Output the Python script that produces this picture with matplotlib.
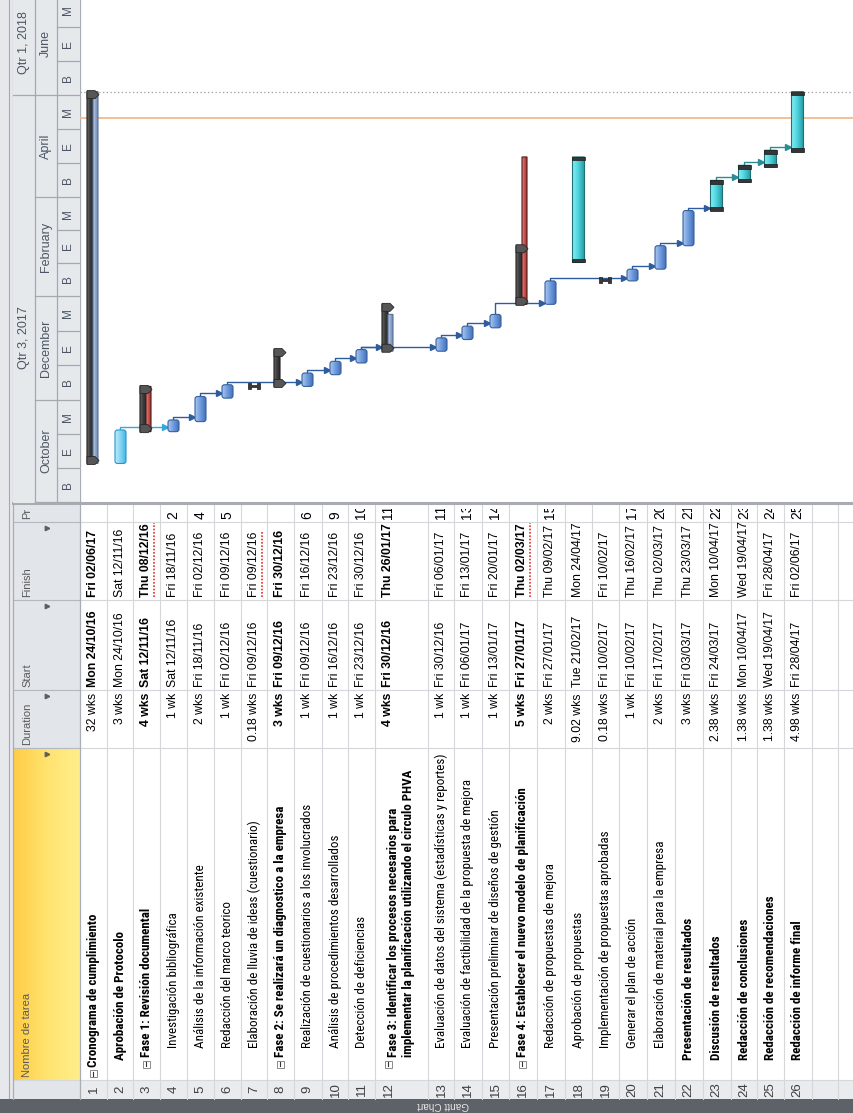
"""Rotated MS Project style Gantt chart for the improvement-plan schedule."""

from datetime import datetime

import matplotlib.dates as mdates
import numpy as np
from matplotlib import font_manager
from matplotlib import pyplot as plt
from matplotlib.colors import LinearSegmentedColormap
from matplotlib.patches import FancyBboxPatch, Polygon, Rectangle
from matplotlib.path import Path

plt.rcParams["font.family"] = ["Liberation Sans", "DejaVu Sans"]

# ---------------------------------------------------------------- data
task_names = [
    "Cronograma de cumplimiento",
    "Aprobación de Protocolo",
    "Fase 1: Revisión documental",
    "Investigación bibliográfica",
    "Análisis de la información existente",
    "Redacción del marco teorico",
    "Elaboración de lluvia de ideas (cuestionario)",
    "Fase 2: Se realizará un diagnostico a la empresa",
    "Realización de cuestionarios a los involucrados",
    "Análisis de procedimientos desarrollados",
    "Detección de deficiencias",
    "Fase 3: Identificar los procesos necesarios para\n"
    "implementar la planificación utilizando el circulo PHVA",
    "Evaluación de datos del sistema (estadísticas y reportes)",
    "Evaluación de factibilidad de la propuesta de mejora",
    "Presentación preliminar de diseños de gestión",
    "Fase 4: Establecer el nuevo modelo de planificación",
    "Redacción de propuestas de mejora",
    "Aprobación de propuestas",
    "Implementación de propuestas aprobadas",
    "Generar el plan de acción",
    "Elaboración de material para la empresa",
    "Presentación de resultados",
    "Discusión de resultados",
    "Redacción de conclusiones",
    "Redacción de recomendaciones",
    "Redacción de informe final",
]
durations = [
    "32 wks", "3 wks", "4 wks", "1 wk", "2 wks", "1 wk", "0.18 wks", "3 wks",
    "1 wk", "1 wk", "1 wk", "4 wks", "1 wk", "1 wk", "1 wk", "5 wks", "2 wks",
    "9.02 wks", "0.18 wks", "1 wk", "2 wks", "3 wks", "2.38 wks", "1.38 wks",
    "1.38 wks", "4.98 wks",
]
starts = [
    "Mon 24/10/16", "Mon 24/10/16", "Sat 12/11/16", "Sat 12/11/16",
    "Fri 18/11/16", "Fri 02/12/16", "Fri 09/12/16", "Fri 09/12/16",
    "Fri 09/12/16", "Fri 16/12/16", "Fri 23/12/16", "Fri 30/12/16",
    "Fri 30/12/16", "Fri 06/01/17", "Fri 13/01/17", "Fri 27/01/17",
    "Fri 27/01/17", "Tue 21/02/17", "Fri 10/02/17", "Fri 10/02/17",
    "Fri 17/02/17", "Fri 03/03/17", "Fri 24/03/17", "Mon 10/04/17",
    "Wed 19/04/17", "Fri 28/04/17",
]
finishes = [
    "Fri 02/06/17", "Sat 12/11/16", "Thu 08/12/16", "Fri 18/11/16",
    "Fri 02/12/16", "Fri 09/12/16", "Fri 09/12/16", "Fri 30/12/16",
    "Fri 16/12/16", "Fri 23/12/16", "Fri 30/12/16", "Thu 26/01/17",
    "Fri 06/01/17", "Fri 13/01/17", "Fri 20/01/17", "Thu 02/03/17",
    "Thu 09/02/17", "Mon 24/04/17", "Fri 10/02/17", "Thu 16/02/17",
    "Thu 02/03/17", "Thu 23/03/17", "Mon 10/04/17", "Wed 19/04/17",
    "Fri 28/04/17", "Fri 02/06/17",
]
predecessors = [
    "", "", "", "2", "4", "5", "", "", "6", "9", "10", "11", "11", "13", "14",
    "", "15", "", "", "17", "20", "21", "22", "23", "24", "25",
]
outline_levels = [0, 1, 1, 2, 2, 2, 2, 1, 2, 2, 2, 1, 2, 2, 2, 1, 2, 2, 2, 2, 2,
                  1, 1, 1, 1, 1]
bar_types = [
    "summary", "light", "summary", "auto", "auto", "auto", "short", "summary",
    "auto", "auto", "auto", "summary", "auto", "auto", "auto", "summary",
    "auto", "manual", "short", "auto", "auto", "auto", "manual", "manual",
    "manual", "manual",
]
bold_name_rows = [1, 2, 3, 8, 12, 16, 22, 23, 24, 25, 26]
bold_date_rows = [1, 3, 8, 12, 16]
bold_duration_rows = [3, 8, 12, 16]
warning_rows = [3, 7, 16]

# roll-up bars drawn beside the summary bars
rollup_rows = [1, 3, 12, 16]
rollup_starts = ["24/10/16", "12/11/16", "30/12/16", "27/01/17"]
rollup_finishes = ["02/06/17", "08/12/16", "20/01/17", "24/04/17"]
rollup_styles = ["steel", "red", "steel", "red"]

# timescale
period_starts = ["01/10/16", "01/12/16", "01/02/17", "01/04/17", "01/06/17",
                 "01/08/17"]
period_labels = ["October", "December", "February", "April", "June"]
third_labels = ["B", "E", "M"]
quarter_labels = ["Qtr 3, 2017", "Qtr 1, 2018"]
quarter_label_dates = ["07/01/17", "02/07/17"]
quarter_breaks = ["01/06/17"]
status_date = "18/05/17"
project_end_line = "03/06/17"

# ---------------------------------------------------------------- layout
W, H = 854, 1113
PX_PER_DAY = 1.675
HDR_L, HDR_R = 13, 80
GANTT_B = 503
row_edges = [80, 107, 133, 160, 187, 214, 241, 267, 294, 322, 348, 375, 428,
             454, 482, 509, 537, 565, 592, 619, 647, 675, 703, 731, 757, 784,
             812, 838, 865]
# table columns (y ranges in pixels): pred, finish, start, duration, name
COL_PR = (505, 522)
COL_FIN = (522, 600)
COL_START = (600, 690)
COL_DUR = (690, 748)
COL_NAME = (748, 1080)
COL_NUM = (1080, 1099)
CELL_SIZE = 8.8

installed = {f.name for f in font_manager.fontManager.ttflist}
narrow = next((f for f in ("Liberation Sans Narrow", "Roboto Condensed")
               if f in installed), None)
if narrow:
    NAME_FONT = {"family": [narrow, "DejaVu Sans"], "size": 9.4}
else:
    NAME_FONT = {"family": ["Liberation Sans", "DejaVu Sans"], "size": 7.8}


def parse(label):
    return mdates.date2num(datetime.strptime(label.split()[-1], "%d/%m/%y"))


def dpx(p):
    """Pixels along the time axis expressed in days."""
    return p / PX_PER_DAY


n_tasks = len(task_names)
row_lo = np.array(row_edges[:n_tasks], dtype=float)
row_x = row_lo + 13.5  # first text line / bar position of each row
start_t = np.array([parse(s) for s in starts])
finish_t = np.array([parse(f) for f in finishes]) + 1.0

fig = plt.figure(figsize=(W / 100, H / 100), dpi=100)
ax = fig.add_axes([0, 0, 1, 1])
ax.set_xlim(0, W)
ax.set_ylim(H, 0)
ax.axis("off")

# ---------------------------------------------------------------- frame
ax.add_patch(Rectangle((0, 0), HDR_L, H, fc="#E6E8EC", ec="none"))
ax.plot([9, 9], [0, H], color="#A3A9B1", lw=0.8)
ax.add_patch(Rectangle((HDR_L, GANTT_B), HDR_R - HDR_L, COL_NAME[0] - GANTT_B,
                       fc="#E2E5E9", ec="none"))
yellow = LinearSegmentedColormap.from_list("hdr", ["#FFCC45", "#FFE36F", "#FFEE8C"])
ax.imshow(np.linspace(0, 1, 64)[None, :], cmap=yellow, aspect="auto",
          extent=(HDR_L, HDR_R, COL_NAME[1], COL_NAME[0]), zorder=1)
ax.add_patch(Rectangle((HDR_L, COL_NUM[0]), W - HDR_L, COL_NUM[1] - COL_NUM[0],
                       fc="#E9EBEE", ec="none"))
ax.add_patch(Rectangle((HDR_L, COL_NUM[0]), HDR_R - HDR_L, COL_NUM[1] - COL_NUM[0],
                       fc="#E2E5E9", ec="none", zorder=1))
ax.add_patch(Rectangle((0, COL_NUM[1]), W, H - COL_NUM[1], fc="#5D6168",
                       ec="none", zorder=2))
ax.text(443, 1105.5, "Gantt Chart", rotation=180, ha="center", va="center",
        fontsize=7.2, color="#E6E6E6", zorder=3)

# table grid
for x in row_edges[1:]:
    ax.plot([x, x], [GANTT_B + 2, COL_NUM[1]], color="#D5D7DA", lw=0.8)
for y in (COL_FIN[0], COL_START[0], COL_DUR[0], COL_NAME[0], COL_NUM[0]):
    ax.plot([HDR_L, W], [y, y], color="#D5D7DA", lw=0.8)
for y in (COL_FIN[0], COL_START[0], COL_DUR[0], COL_NAME[0]):
    ax.plot([HDR_L, HDR_R], [y, y], color="#B4B9C0", lw=0.8, zorder=2)
ax.plot([HDR_R, HDR_R], [0, COL_NUM[1]], color="#A9AEB5", lw=0.9, zorder=2)
ax.plot([HDR_L, HDR_L], [0, COL_NUM[1]], color="#A9AEB5", lw=0.9, zorder=2)
ax.plot([HDR_L, W], [GANTT_B, GANTT_B], color="#A8ACB2", lw=2.2, zorder=2)

# column headers
header_texts = [("Pr", COL_PR), ("Finish", COL_FIN), ("Start", COL_START),
                ("Duration", COL_DUR), ("Nombre de tarea", COL_NAME)]
for label, (lo, hi) in header_texts:
    t = ax.text(27, hi - 3, label, rotation=90, ha="center", va="bottom",
                fontsize=8, color="#595959", zorder=3, clip_on=True)
    t.set_clip_path(Rectangle((HDR_L, lo + (13 if label == "Duration" else 0)),
                              HDR_R - HDR_L, hi - lo, transform=ax.transData))
    if label != "Pr":
        ax.plot(47, lo + 6, marker=">", ms=3.2, color="#5F5F5F", zorder=3)

# table body
for i in range(n_tasks):
    x = row_x[i]
    num = i + 1
    ax.text(x, (COL_NUM[0] + COL_NUM[1]) / 2, str(num), rotation=90, ha="center",
            va="center", fontsize=9.5, color="#3F3F3F", zorder=3)
    lvl = outline_levels[i]
    summary = bar_types[i] == "summary"
    if lvl == 0:
        y_text, y_box = 1067, 1073.5
    elif summary:
        y_text, y_box = 1057, 1064
    elif lvl == 1:
        y_text, y_box = 1060, None
    else:
        y_text, y_box = 1048, None
    if summary:
        ax.add_patch(Rectangle((x - 3.5, y_box - 3.5), 7, 7, fc="white",
                               ec="#8A8A8A", lw=0.7, zorder=3))
        ax.plot([x, x], [y_box - 2, y_box + 2], color="#333333", lw=0.8, zorder=4)
    name_x = (row_lo[i] + row_edges[i + 1]) / 2 if "\n" in task_names[i] else x
    ax.text(name_x, y_text, task_names[i], rotation=90, ha="center", va="bottom",
            multialignment="left", linespacing=1.2, zorder=3,
            fontweight="bold" if num in bold_name_rows else "normal",
            **NAME_FONT)
    ax.text(x, COL_DUR[0] + 3, durations[i], rotation=90, ha="center", va="top",
            fontsize=CELL_SIZE,
            fontweight="bold" if num in bold_duration_rows else "normal")
    ax.text(x, COL_START[1] - 3, starts[i], rotation=90, ha="center",
            va="bottom", fontsize=CELL_SIZE,
            fontweight="bold" if num in bold_date_rows else "normal")
    fin = ax.text(x, COL_FIN[1] - 3, finishes[i], rotation=90, ha="center",
                  va="bottom", fontsize=CELL_SIZE,
                  fontweight="bold" if num in bold_date_rows else "normal")
    if num in warning_rows:
        fig.canvas.draw()
        bb = fin.get_window_extent(fig.canvas.get_renderer())
        (bx0, by0), (bx1, by1) = ax.transData.inverted().transform(
            [[bb.x0, bb.y0], [bb.x1, bb.y1]])
        ax.plot([bx1 + 1.5, bx1 + 1.5], [by0, by1], color="#E0302A", lw=1.2,
                ls=(0, (1, 1)), zorder=3)
    if predecessors[i]:
        t = ax.text(x, COL_PR[1] - 3, predecessors[i], rotation=90, ha="center",
                    va="bottom", fontsize=10, clip_on=True)
        t.set_clip_path(Rectangle((HDR_R, COL_PR[0] + 4), W, COL_PR[1] - COL_PR[0],
                                  transform=ax.transData))

# ---------------------------------------------------------------- timescale
t_origin = parse("01/10/16")
y_lim = (t_origin - dpx(GANTT_B - 502), t_origin + dpx(502))

hax = fig.add_axes([HDR_L / W, 1 - GANTT_B / H, (HDR_R - HDR_L) / W, GANTT_B / H])
hax.set_xlim(HDR_L, HDR_R)
hax.set_ylim(*y_lim)
hax.axis("off")
hax.add_patch(Rectangle((HDR_L, y_lim[0]), HDR_R - HDR_L, y_lim[1] - y_lim[0],
                        fc="#E6E9EC", ec="none"))
tier_col = "#A4A9B0"
scale_col = "#4B5563"
for xb in (35, 57):
    hax.plot([xb, xb], y_lim, color=tier_col, lw=0.9)
p_t = [parse(p) for p in period_starts]
for k, label in enumerate(period_labels):
    t0, t1 = p_t[k], p_t[k + 1]
    hax.plot([35, HDR_R], [t0, t0], color=tier_col, lw=0.9)
    hax.text(46, (t0 + t1) / 2, label, rotation=90, ha="center", va="center",
             fontsize=9, color=scale_col, clip_on=True)
    edges = np.linspace(t0, t1, 4)
    for j, letter in enumerate(third_labels):
        if j:
            hax.plot([57, HDR_R], [edges[j], edges[j]], color=tier_col, lw=0.9)
        hax.text(68.5, (edges[j] + edges[j + 1]) / 2, letter, rotation=90,
                 ha="center", va="center", fontsize=8.5, color=scale_col,
                 clip_on=True)
for qb in quarter_breaks:
    hax.plot([HDR_L, 35], [parse(qb)] * 2, color=tier_col, lw=0.9)
for label, qd in zip(quarter_labels, quarter_label_dates):
    hax.text(24, parse(qd), label, rotation=90, ha="center", va="center",
             fontsize=9, color=scale_col, clip_on=True)

# ---------------------------------------------------------------- gantt
gax = fig.add_axes([HDR_R / W, 1 - GANTT_B / H, 1 - HDR_R / W, GANTT_B / H])
gax.axis("off")

palettes = {
    "auto": (["#A9C6F0", "#6F9CDD", "#4471B6"], "#36609E"),
    "light": (["#BDEBFB", "#84D5F3", "#47B5E4"], "#2796CC"),
    "manual": (["#8BEEF3", "#4FD6E0", "#2A9FA9"], "#1F6F76"),
    "summary": (["#6A6A6A", "#3C3C3C", "#2E2E2E"], "#1E1E1E"),
    "steel": (["#BFD0E6", "#8FA8CB", "#7089B0"], "#5B7197"),
    "red": (["#E88A86", "#C9514C", "#A8322E"], "#4A1E1C"),
}
link_colors = {"auto": "#2F5C9E", "light": "#35A8DC", "manual": "#2A8C94",
               "short": "#2F5C9E", "summary": "#2F5C9E"}
left_offset = {"summary": 6.5, "auto": 5.5, "light": 5.5, "manual": 6.5,
               "short": 6.0}


def gradient_box(x0, x1, t0, t1, style, rounding=0.0, z=3):
    colors, edge = palettes[style]
    patch = FancyBboxPatch((x0, t0), x1 - x0, t1 - t0,
                           boxstyle=f"round,pad=0,rounding_size={rounding}",
                           mutation_aspect=1 / PX_PER_DAY, fc="none", ec=edge,
                           lw=0.8, zorder=z + 0.5)
    gax.add_patch(patch)
    cmap = LinearSegmentedColormap.from_list(style, colors)
    im = gax.imshow(np.linspace(0, 1, 64)[None, :], cmap=cmap, aspect="auto",
                    extent=(x0, x1, t0, t1), origin="lower",
                    interpolation="bilinear", zorder=z)
    im.set_clip_path(patch)


IBEAM = Path([(-1, -0.5), (-0.5, -0.5), (-0.5, -0.18), (0.5, -0.18),
              (0.5, -0.5), (1, -0.5), (1, 0.5), (0.5, 0.5), (0.5, 0.18),
              (-0.5, 0.18), (-0.5, 0.5), (-1, 0.5), (-1, -0.5)], closed=True)

# dependency links
for i, pred in enumerate(predecessors):
    if not pred:
        continue
    j = int(pred) - 1
    t_link = max(finish_t[j] + dpx(3), start_t[i] + dpx(1.5))
    x_tip = row_x[i] - left_offset[bar_types[i]]
    col = link_colors[bar_types[j]]
    gax.plot([row_x[j], row_x[j], x_tip - 3], [finish_t[j], t_link, t_link],
             color=col, lw=1.0, zorder=2, solid_joinstyle="round")
    gax.plot(x_tip - 3, t_link, marker=">", ms=5, color=col, mec=col, zorder=2)

# task bars
for i, kind in enumerate(bar_types):
    c = row_x[i]
    t0, t1 = start_t[i], finish_t[i]
    if kind == "summary":
        gradient_box(c - 6.5, c - 0.5, t0, t1, "summary", z=3)
        for t, sgn in ((t1, 1), (t0, -1)):
            pts = [(c - 6.5, t + sgn * dpx(1)), (c + 1.5, t + sgn * dpx(1)),
                   (c + 5.5, t - sgn * dpx(3)), (c + 1.5, t - sgn * dpx(7)),
                   (c - 6.5, t - sgn * dpx(7))]
            gax.add_patch(Polygon(pts, closed=True, fc="#565656", ec="#262626",
                                  lw=0.6, zorder=6))
    elif kind in ("auto", "light"):
        gradient_box(c - 5.5, c + 5.5, t0, t1, kind, rounding=2.5, z=3)
    elif kind == "manual":
        gradient_box(c - 6, c + 6, t0, t1, "manual", z=3)
        for tt in (t0, t1 - dpx(3.5)):
            gax.add_patch(Rectangle((c - 6.5, tt), 13, dpx(3.5), fc="#363636",
                                    ec="#1A1A1A", lw=0.5, zorder=5))
    else:
        gax.plot(c, t0 + 0.5, marker=IBEAM, ms=8.8, color="#3A3A3A",
                 mec="#1A1A1A", mew=0.5, zorder=7)

for r, s, f, style in zip(rollup_rows, rollup_starts, rollup_finishes,
                          rollup_styles):
    c = row_x[r - 1]
    gradient_box(c - 0.5, c + 4.5, parse(s), parse(f) + 1.0, style, z=4)

gax.axhline(parse(project_end_line), color="#9C9C9C", lw=0.9, ls=(0, (1, 2)),
            zorder=1)
gax.axhline(parse(status_date), color="#F6BA8C", lw=1.3, zorder=1)

gax.set_xlim(HDR_R, W)
gax.set_ylim(*y_lim)

fig.savefig("out.png", dpi=100)
